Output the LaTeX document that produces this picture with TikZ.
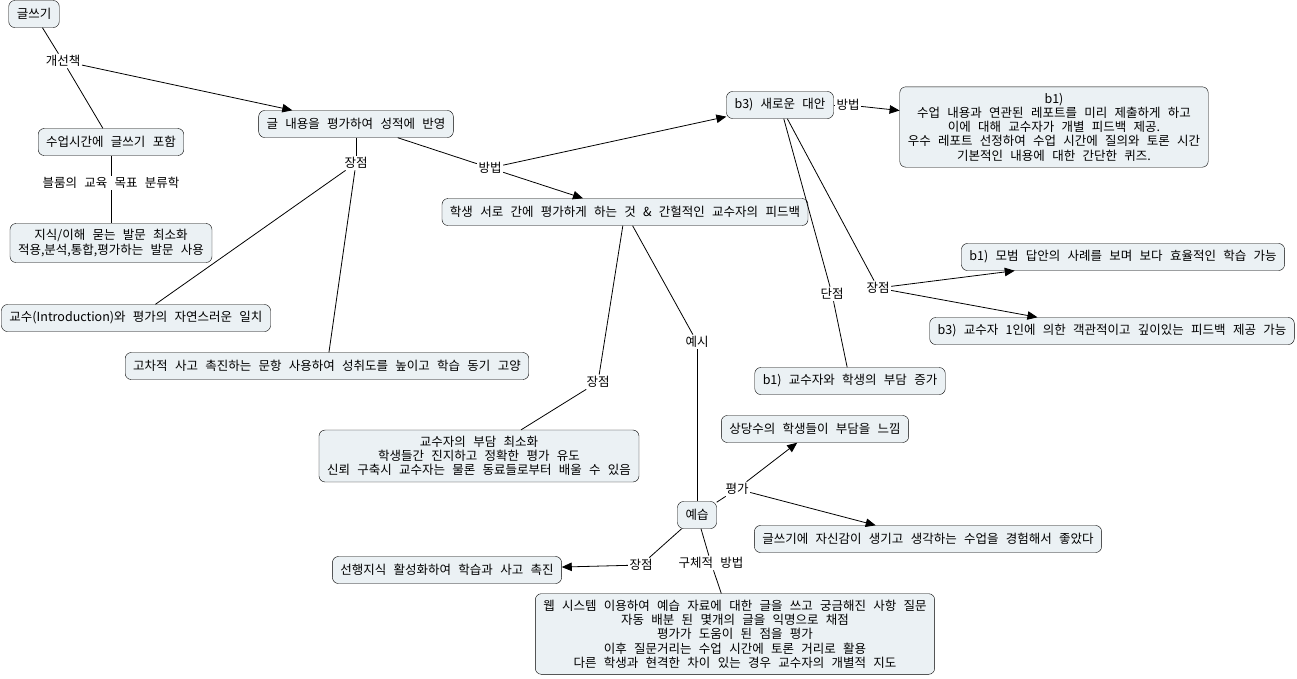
\documentclass[tikz,border=0pt]{standalone}
\usepackage{fontspec}
\setmainfont{Noto Sans CJK KR}[WordSpace=2.6]
\usetikzlibrary{arrows.meta,positioning}
\definecolor{cmapfill}{RGB}{235,241,244}
\tikzset{
  box/.style={draw=black, fill=cmapfill, rounded corners=6pt, align=center, inner xsep=8pt, inner ysep=6pt, minimum height=27pt, font=\fontsize{12.5pt}{14.3pt}\selectfont},
  linklabel/.style={inner sep=1.5pt, font=\fontsize{12.5pt}{14.3pt}\selectfont},
  link/.style={line width=0.8pt},
  arrow/.style={-{Triangle[length=10pt,width=8.5pt]}, line width=0.8pt}
}

\begin{document}
\begin{tikzpicture}[x=1pt, y=-1pt, on grid]
\useasboundingbox (0,0) rectangle (1297,678);
\node[box] (writing) at (34,14) {글쓰기};
\node[linklabel, below right=47pt and 29pt of writing] (fixes) {개선책};
\node[box, below right=81pt and 48pt of fixes] (inclass) {수업시간에 글쓰기 포함};
\node[linklabel, below=41pt of inclass] (bloom) {블룸의 교육 목표 분류학};
\node[box, below=60pt of bloom] (knowq) {지식/이해 묻는 발문 최소화\\적용,분석,통합,평가하는 발문 사용};
\node[box, below right=63pt and 293pt of fixes] (grade) {글 내용을 평가하여 성적에 반영};
\node[linklabel, below=39pt of grade] (proA) {장점};
\node[box, below left=155pt and 220pt of proA] (intro) {교수(Introduction)와 평가의 자연스러운 일치};
\node[box, below left=203pt and 29pt of proA] (higher) {고차적 사고 촉진하는 문항 사용하여 성취도를 높이고 학습 동기 고양};
\node[linklabel, below right=44pt and 134pt of grade] (howA) {방법};
\node[box, below right=44pt and 135pt of howA] (peer) {학생 서로 간에 평가하게 하는 것 \& 간헐적인 교수자의 피드백};
\node[box, above right=63pt and 290pt of howA] (newalt) {b3) 새로운 대안};
\node[linklabel, right=68pt of newalt] (howB) {방법};
\node[box, below right=22pt and 206pt of howB] (report) {b1)\\수업 내용과 연관된 레포트를 미리 제출하게 하고\\이에 대해 교수자가 개별 피드백 제공.\\우수 레포트 선정하여 수업 시간에 질의와 토론 시간\\기본적인 내용에 대한 간단한 퀴즈.};
\node[linklabel, below right=183pt and 98pt of newalt] (proB) {장점};
\node[linklabel, below right=189pt and 52pt of newalt] (con) {단점};
\node[box, above right=31pt and 245pt of proB] (model) {b1) 모범 답안의 사례를 보며 보다 효율적인 학습 가능};
\node[box, below right=43pt and 234pt of proB] (deep) {b3) 교수자 1인에 의한 객관적이고 깊이있는 피드백 제공 가능};
\node[box, below right=87pt and 18pt of con] (burden) {b1) 교수자와 학생의 부담 증가};
\node[linklabel, below left=170pt and 27pt of peer] (proC) {장점};
\node[linklabel, below right=130pt and 72pt of peer] (example) {예시};
\node[box, below left=74pt and 119pt of proC] (minimal) {교수자의 부담 최소화\\학생들간 진지하고 정확한 평가 유도\\신뢰 구축시 교수자는 물론 동료들로부터 배울 수 있음};
\node[box, below=173pt of example] (preview) {예습};
\node[linklabel, above right=26pt and 40pt of preview] (rating) {평가};
\node[box, above right=60pt and 78pt of rating] (many) {상당수의 학생들이 부담을 느낌};
\node[box, below right=50pt and 191pt of rating] (confident) {글쓰기에 자신감이 생기고 생각하는 수업을 경험해서 좋았다};
\node[linklabel, below left=50pt and 56pt of preview] (proD) {장점};
\node[box, below left=5pt and 194pt of proD] (prior) {선행지식 활성화하여 학습과 사고 촉진};
\node[linklabel, below right=48pt and 14pt of preview] (concrete) {구체적 방법};
\node[box, below right=71pt and 24pt of concrete] (web) {웹 시스템 이용하여 예습 자료에 대한 글을 쓰고 궁금해진 사항 질문\\자동 배분 된 몇개의 글을 익명으로 채점\\평가가 도움이 된 점을 평가\\이후 질문거리는 수업 시간에 토론 거리로 활용\\다른 학생과 현격한 차이 있는 경우 교수자의 개별적 지도};
\draw[link] (writing) -- (fixes);
\draw[link] (fixes) -- (inclass);
\draw[arrow] (fixes) -- (grade);
\draw[link] (inclass) -- (bloom);
\draw[link] (bloom) -- (knowq);
\draw[link] (grade) -- (proA);
\draw[link] (proA) -- (intro);
\draw[link] (proA) -- (higher);
\draw[link] (grade) -- (howA);
\draw[arrow] (howA) -- (peer);
\draw[arrow] (howA) -- (newalt);
\draw[link] (newalt) -- (howB);
\draw[arrow] (howB) -- (report);
\draw[link] (newalt) -- (proB);
\draw[arrow] (proB) -- (model);
\draw[arrow] (proB) -- (deep);
\draw[link] (newalt) -- (con);
\draw[link] (con) -- (burden);
\draw[link] (peer) -- (proC);
\draw[link] (proC) -- (minimal);
\draw[link] (peer) -- (example);
\draw[link] (example) -- (preview);
\draw[link] (preview) -- (rating);
\draw[arrow] (rating) -- (many);
\draw[arrow] (rating) -- (confident);
\draw[link] (preview) -- (proD);
\draw[arrow] (proD) -- (prior);
\draw[link] (preview) -- (concrete);
\draw[link] (concrete) -- (web);
\end{tikzpicture}
\end{document}
